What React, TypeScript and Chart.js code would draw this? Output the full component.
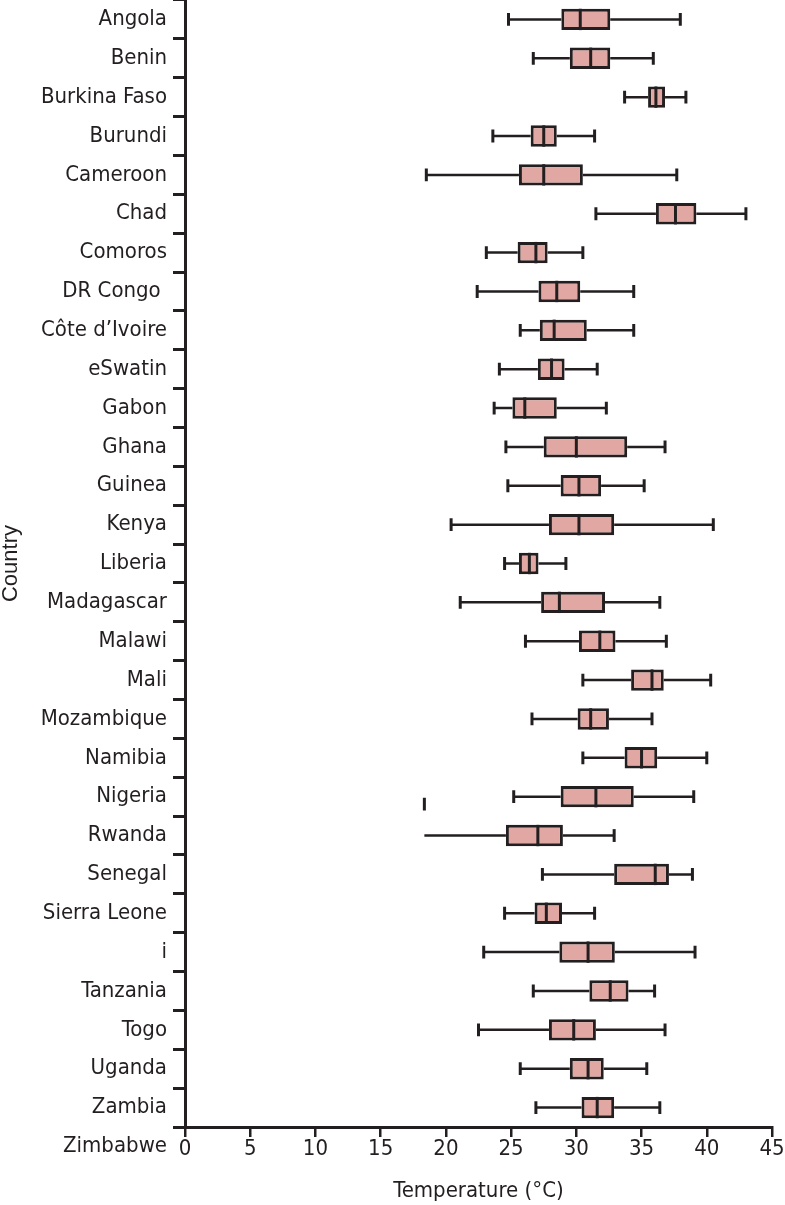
import { useEffect, useRef } from 'react';
import { Chart, registerables } from 'chart.js';

Chart.register(...registerables);

const countries = [
  'Angola', 'Benin', 'Burkina Faso', 'Burundi', 'Cameroon', 'Chad', 'Comoros',
  'DR Congo ', 'Côte d\u2019Ivoire', 'eSwatin', 'Gabon', 'Ghana', 'Guinea', 'Kenya',
  'Liberia', 'Madagascar', 'Malawi', 'Mali', 'Mozambique', 'Namibia', 'Nigeria',
  'Rwanda', 'Senegal', 'Sierra Leone', 'i', 'Tanzania', 'Togo', 'Uganda', 'Zambia',
];
const trailingLabel = 'Zimbabwe';

const whiskerLow = [24.8, 26.7, 33.7, 23.6, 18.5, 31.5, 23.1, 22.4, 25.7, 24.1, 23.7, 24.6, 24.75, 20.4, 24.5, 21.1, 26.1, 30.5, 26.6, 30.5, 25.2, 18.35, 27.4, 24.5, 22.9, 26.7, 22.5, 25.7, 26.9];
const q1 = [28.85, 29.5, 35.5, 26.5, 25.6, 36.1, 25.5, 27.1, 27.2, 27.05, 25.1, 27.5, 28.8, 27.9, 25.6, 27.3, 30.2, 34.2, 30.1, 33.7, 28.8, 24.6, 32.9, 26.8, 28.7, 31.0, 27.9, 29.5, 30.4];
const median = [30.3, 31.1, 36.1, 27.5, 27.5, 37.6, 26.9, 28.5, 28.3, 28.1, 26.05, 30.0, 30.2, 30.2, 26.4, 28.7, 31.8, 35.8, 31.1, 35.0, 31.5, 27.05, 36.05, 27.7, 30.9, 32.6, 29.8, 30.9, 31.6];
const q3 = [32.6, 32.6, 36.8, 28.5, 30.5, 39.2, 27.8, 30.3, 30.8, 29.1, 28.5, 33.9, 31.9, 32.9, 27.1, 32.2, 33.0, 36.7, 32.5, 36.2, 34.4, 28.97, 37.1, 28.9, 32.95, 34.0, 31.5, 32.1, 32.9];
const whiskerHigh = [37.97, 35.9, 38.4, 31.4, 37.7, 43.0, 30.5, 34.4, 34.4, 31.6, 32.3, 36.8, 35.2, 40.5, 29.2, 36.4, 36.9, 40.3, 35.8, 40.0, 39.0, 32.9, 38.9, 31.4, 39.1, 36.0, 36.8, 35.4, 36.4];
// Rwanda's lower whisker has no cap; its cap appears detached on the Nigeria row
const lowCapShown = countries.map((c) => c !== 'Rwanda');
const strayCapCountry = 'Nigeria';
const strayCapValue = 18.35;

const xMin = 0;
const xMax = 45;
const xStep = 5;

const FILL = '#e1a7a2';
const INK = '#231f20';
const LABEL_FONT = "'Liberation Sans Narrow', 'DejaVu Sans Condensed', 'Roboto Condensed', sans-serif";
const TITLE_FONT = "'Liberation Sans', 'Noto Sans', sans-serif";
const LABEL_SIZE = 22;

const boxPlugin = {
  id: 'boxWhiskers',
  beforeDatasetsDraw(chart: any) {
    const { ctx, scales } = chart;
    const x = scales.x;
    const y = scales.y;
    const meta = chart.getDatasetMeta(0);
    ctx.save();
    ctx.strokeStyle = INK;
    ctx.lineWidth = 2.5;
    ctx.lineCap = 'butt';
    countries.forEach((_, i) => {
      const yc = y.getPixelForValue(i);
      const h = meta.data[i] ? meta.data[i].height : 20;
      const capH = h * 0.6;
      const xl = x.getPixelForValue(whiskerLow[i]);
      const x1 = x.getPixelForValue(q1[i]);
      const x3 = x.getPixelForValue(q3[i]);
      const xh = x.getPixelForValue(whiskerHigh[i]);
      ctx.beginPath();
      ctx.moveTo(xl, yc);
      ctx.lineTo(x1, yc);
      ctx.moveTo(x3, yc);
      ctx.lineTo(xh, yc);
      ctx.stroke();
      ctx.save();
      ctx.lineWidth = 3;
      ctx.beginPath();
      if (lowCapShown[i]) {
        ctx.moveTo(xl, yc - capH / 2);
        ctx.lineTo(xl, yc + capH / 2);
      }
      ctx.moveTo(xh, yc - capH / 2);
      ctx.lineTo(xh, yc + capH / 2);
      if (countries[i] === strayCapCountry) {
        const xs = x.getPixelForValue(strayCapValue);
        const yo = yc + h * 0.35;
        ctx.moveTo(xs, yo - capH / 2);
        ctx.lineTo(xs, yo + capH / 2);
      }
      ctx.stroke();
      ctx.restore();
    });
    ctx.restore();
  },
  afterDatasetsDraw(chart: any) {
    const { ctx, scales } = chart;
    const x = scales.x;
    const y = scales.y;
    const meta = chart.getDatasetMeta(0);
    ctx.save();
    ctx.strokeStyle = INK;
    ctx.lineWidth = 3;
    countries.forEach((_, i) => {
      const yc = y.getPixelForValue(i);
      const h = meta.data[i] ? meta.data[i].height : 20;
      const xm = x.getPixelForValue(median[i]);
      ctx.beginPath();
      ctx.moveTo(xm, yc - h / 2);
      ctx.lineTo(xm, yc + h / 2);
      ctx.stroke();
    });
    ctx.restore();
  },
  afterDraw(chart: any) {
    const { ctx, scales } = chart;
    const y = scales.y;
    const x = scales.x;
    ctx.save();
    ctx.fillStyle = INK;
    ctx.font = `${LABEL_SIZE}px ${LABEL_FONT}`;
    ctx.textAlign = 'right';
    ctx.textBaseline = 'middle';
    ctx.fillText(trailingLabel, y.right - 18, x.top + 19);
    ctx.restore();
  },
};

export default function App() {
  const ref = useRef<HTMLCanvasElement | null>(null);

  useEffect(() => {
    document.body.style.margin = '0';
    if (!ref.current) return;
    const chart = new Chart(ref.current, {
      type: 'bar',
      data: {
        labels: countries,
        datasets: [
          {
            data: countries.map((_, i) => [q1[i], q3[i]]) as any,
            backgroundColor: FILL,
            borderColor: INK,
            borderWidth: 3,
            borderSkipped: false,
            barPercentage: 0.55,
            categoryPercentage: 1,
          },
        ],
      },
      options: {
        indexAxis: 'y',
        responsive: false,
        animation: false,
        events: [],
        layout: { padding: { top: 0, right: 13, bottom: 0, left: 0 } },
        plugins: {
          legend: { display: false },
          tooltip: { enabled: false },
          title: { display: false },
        },
        scales: {
          x: {
            type: 'linear',
            min: xMin,
            max: xMax,
            ticks: {
              stepSize: xStep,
              color: INK,
              padding: -1,
              font: { family: LABEL_FONT, size: LABEL_SIZE },
            },
            grid: {
              drawOnChartArea: false,
              drawTicks: true,
              tickLength: 10,
              color: INK,
              lineWidth: 2.5,
            },
            border: { display: true, color: INK, width: 3 },
            title: {
              display: true,
              text: 'Temperature (°C)',
              color: INK,
              font: { family: LABEL_FONT, size: LABEL_SIZE },
              padding: { top: 0, bottom: 1 },
            },
            afterFit(scale: any) {
              scale.height = 78;
              scale.paddingLeft = 0;
              scale.paddingRight = 0;
            },
          },
          y: {
            type: 'category',
            offset: true,
            ticks: {
              color: INK,
              padding: 6,
              autoSkip: false,
              font: { family: LABEL_FONT, size: LABEL_SIZE },
            },
            grid: {
              offset: true,
              drawOnChartArea: false,
              drawTicks: true,
              tickLength: 12,
              color: INK,
              lineWidth: 3,
            },
            border: { display: true, color: INK, width: 3 },
            title: {
              display: true,
              text: 'Country',
              color: INK,
              font: { family: TITLE_FONT, size: 22, lineHeight: 1 },
              padding: { top: 0, bottom: 0 },
            },
            afterFit(scale: any) {
              scale.width = 185;
              scale.paddingTop = 0;
              scale.paddingBottom = 0;
            },
          },
        },
      } as any,
      plugins: [boxPlugin],
    });
    return () => chart.destroy();
  }, []);

  return (
    <div style={{ width: 785, height: 1205 }}>
      <canvas ref={ref} width={785} height={1205} />
    </div>
  );
}
